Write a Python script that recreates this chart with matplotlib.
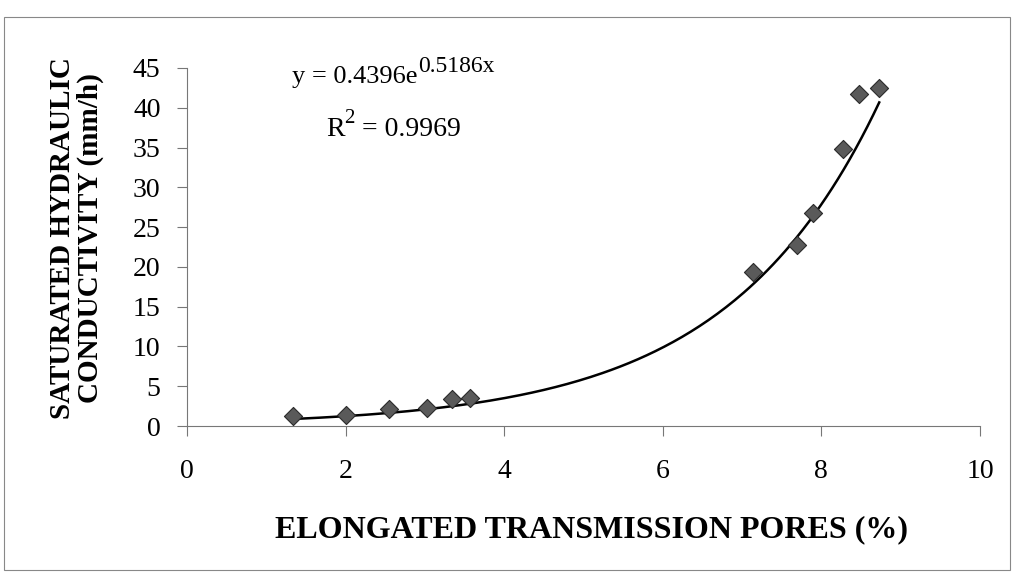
import numpy as np
import matplotlib
matplotlib.use("Agg")
import matplotlib.pyplot as plt
from matplotlib.patches import Rectangle

plt.rcParams['font.family'] = ['Liberation Serif', 'DejaVu Serif']

# elongated transmission pores (%) vs saturated hydraulic conductivity (mm/h)
pores = [1.34, 2.00, 2.55, 3.03, 3.34, 3.57, 7.14, 7.69, 7.89, 8.27, 8.47, 8.73]
ksat = [1.2, 1.4, 2.2, 2.3, 3.4, 3.5, 19.4, 22.7, 26.8, 34.8, 41.7, 42.5]

# exponential trendline coefficients
fit_a = 0.4396
fit_b = 0.5186
r_squared = 0.9969

fig = plt.figure(figsize=(10.14, 5.76), dpi=100)
ax = fig.add_axes([0.1844, 0.2604, 0.782, 0.6216])

xs = np.linspace(min(pores), max(pores), 200)
ax.plot(xs, fit_a * np.exp(fit_b * xs), color='black', lw=1.8, zorder=2)
ax.scatter(pores, ksat, marker='D', s=85, color='#5a5a5a',
           edgecolors='#2a2a2a', linewidths=0.8, zorder=3)

ax.set_xlim(0, 10)
ax.set_ylim(0, 45)
ax.set_xticks(range(0, 11, 2))
ax.set_yticks(range(0, 46, 5))
for side in ('top', 'right'):
    ax.spines[side].set_visible(False)
for side in ('left', 'bottom'):
    ax.spines[side].set_color('#777777')
    ax.spines[side].set_linewidth(0.8)
ax.tick_params(axis='x', direction='out', length=7, width=0.8, color='#777777',
               labelsize=20, pad=17)
ax.tick_params(axis='y', direction='out', length=7, width=0.8, color='#777777',
               labelsize=20, pad=12)

ax.set_xlabel('ELONGATED TRANSMISSION PORES (%)', fontsize=23, fontweight='bold')
ax.xaxis.set_label_coords(0.51, -0.25)
ax.set_ylabel('SATURATED HYDRAULIC\nCONDUCTIVITY (mm/h)', fontsize=21,
              fontweight='bold', linespacing=1.05)
ax.yaxis.label.set_va('center')
ax.yaxis.set_label_coords(-0.139, 0.525)

# trendline equation, exponents drawn as their own smaller texts
eq = ax.text(0.133, 0.975, 'y = %.4fe' % fit_a, transform=ax.transAxes,
             fontsize=19, ha='left', va='center')
ax.annotate('%.4fx' % fit_b, xy=(1, 0.97), xycoords=eq, fontsize=17,
            ha='left', va='center')
r2 = ax.text(0.175, 0.828, 'R', transform=ax.transAxes,
             fontsize=20, ha='left', va='center')
r2sup = ax.annotate('2', xy=(1, 0.95), xycoords=r2, fontsize=15,
                    ha='left', va='center')
ax.annotate(' = %.4f' % r_squared, xy=(1, 0), xycoords=(r2sup, r2),
            fontsize=20, ha='left', va='bottom')

# thin frame round the whole chart area
fig.patches.append(Rectangle((0.004, 0.01), 0.992, 0.96, transform=fig.transFigure,
                             fill=False, edgecolor='#888888', lw=0.8))

fig.savefig('out.png', dpi=100)
